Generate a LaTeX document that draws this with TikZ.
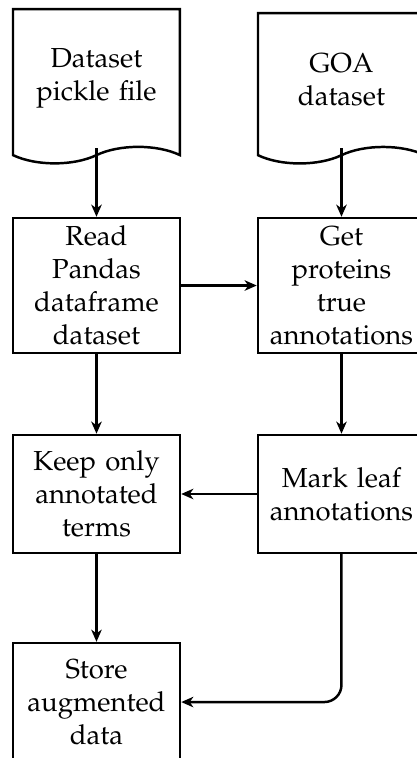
\documentclass[tikz,border=0pt]{standalone}
\usepackage[T1]{fontenc}
\usepackage{mathpazo}
\usepackage{tikz}
\usetikzlibrary{shapes,shapes.symbols,arrows.meta,positioning,calc}

\begin{document}
\begin{tikzpicture}[auto, line width=0.9pt,
    docfile/.style={tape, draw, tape bend top=none, tape bend bottom=in and out,
        tape bend height=6pt, text width=1.9cm, align=center,
        minimum width=2.134cm, inner sep=2pt},
    process/.style={rectangle, draw, text width=1.98cm, align=center,
        minimum width=2.134cm, inner sep=2pt},
    line/.style={draw, -{Stealth[length=4.4pt, width=3.8pt, inset=1.3pt]}}]

    \path[use as bounding box, clip] (0,0) rectangle (5.329,-9.687);

    % ====== Input files ======
    \node [docfile, anchor=north, minimum height=1.97cm] (pickle) at (1.233,-0.102)
        {Dataset\\pickle file\\[4pt]};
    \node [docfile, anchor=north, minimum height=1.92cm] (goa) at (4.364,-0.153)
        {GOA\\dataset\\[4pt]};

    % ====== Processing steps ======
    \node [process, minimum height=1.725cm] (read) at (1.233,-3.649)
        {Read\\Pandas\\dataframe\\dataset};
    \node [process, minimum height=1.725cm] (proteins) at (4.364,-3.649)
        {Get\\proteins\\true\\annotations};
    \node [process, minimum height=1.508cm] (keep) at (1.233,-6.313)
        {Keep only\\annotated\\terms};
    \node [process, minimum height=1.508cm] (leaf) at (4.364,-6.313)
        {Mark leaf\\annotations};
    \node [process, minimum height=1.508cm] (store) at (1.233,-8.972)
        {Store\\augmented\\data};

    % ====== Lines ======
    \path [line] (pickle.south) -- (read);
    \path [line] (goa.south)    -- (proteins);
    \path [line] (read)         -- (proteins);
    \path [line] (proteins)     -- (leaf);
    \path [line] (read)         -- (keep);
    \path [line] (leaf)         -- (keep);
    \path [line] (keep)         -- (store);
    \path [line, rounded corners=0.22cm] (leaf) |- (store);
\end{tikzpicture}
\end{document}
